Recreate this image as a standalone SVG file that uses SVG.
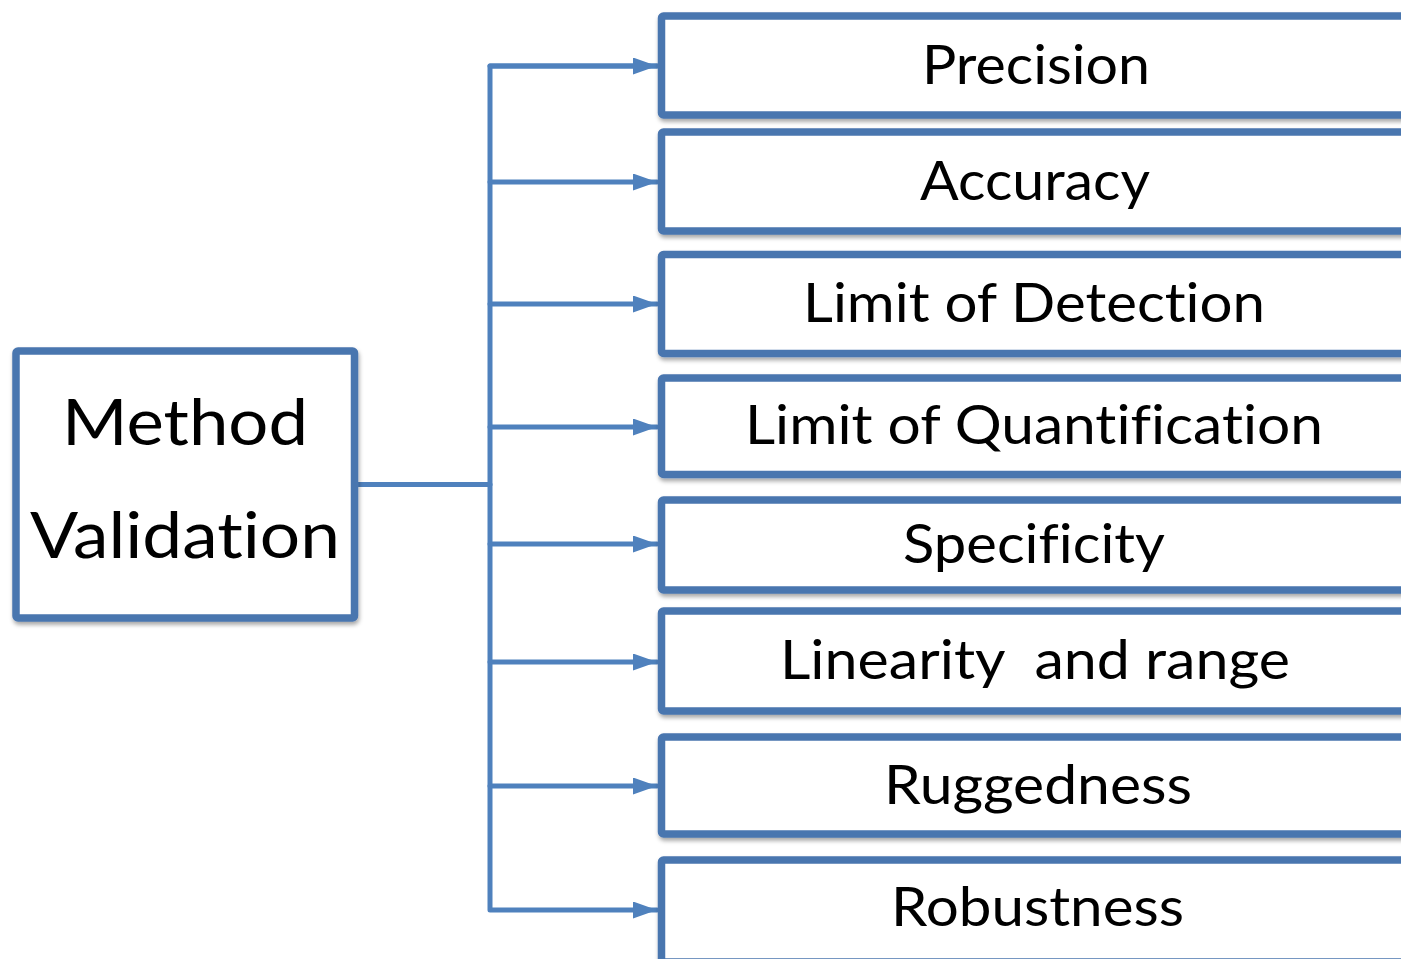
<svg xmlns="http://www.w3.org/2000/svg" width="1401" height="959" viewBox="0 0 1401 959">
<style>
.box{fill:#fff;stroke:#4A76AF;stroke-width:7.5;filter:url(#sh)}
.lbl{font-family:Lato,"Liberation Sans",sans-serif;font-size:55px;fill:#000;text-anchor:middle;font-variant-ligatures:none;font-feature-settings:"liga" 0,"clig" 0}
.big{font-size:64px}
.con{fill:none;stroke:#4F81BD;stroke-width:5;stroke-linejoin:round;stroke-linecap:round}
</style>
<defs>
<filter id="sh" x="-5%" y="-10%" width="110%" height="130%">
<feDropShadow dx="1" dy="3" stdDeviation="2" flood-color="#000" flood-opacity="0.35"/>
</filter>
<marker id="ah" markerUnits="userSpaceOnUse" markerWidth="26" markerHeight="18" refX="24" refY="8.5" orient="auto">
<path d="M0,0 L24,8.5 L0,17 Z" fill="#4F81BD"/>
</marker>
</defs>
<g id="connectors">
<path class="con" d="M358,484.5 H490"/>
<path class="con" d="M657,66 H490 V910 H657" marker-end="url(#ah)"/>
<path class="con" d="M490,66 H657" marker-end="url(#ah)"/>
<path class="con" d="M490,182 H657" marker-end="url(#ah)"/>
<path class="con" d="M490,304 H657" marker-end="url(#ah)"/>
<path class="con" d="M490,427 H657" marker-end="url(#ah)"/>
<path class="con" d="M490,544 H657" marker-end="url(#ah)"/>
<path class="con" d="M490,662 H657" marker-end="url(#ah)"/>
<path class="con" d="M490,786 H657" marker-end="url(#ah)"/>
</g>
<g id="method">
<rect class="box" x="16" y="351" width="338.5" height="267" rx="2"/>
<text class="lbl big" x="185" y="445" textLength="246" lengthAdjust="spacingAndGlyphs">Method</text>
<text class="lbl big" x="185" y="558" textLength="310" lengthAdjust="spacingAndGlyphs">Validation</text>
</g>
<g id="precision">
<rect class="box" x="661.5" y="16" width="747" height="99" rx="2"/>
<text class="lbl" x="1036" y="84" textLength="228" lengthAdjust="spacingAndGlyphs">Precision</text>
</g>
<g id="accuracy">
<rect class="box" x="661.5" y="132" width="747" height="99" rx="2"/>
<text class="lbl" x="1035" y="200" textLength="230" lengthAdjust="spacingAndGlyphs">Accuracy</text>
</g>
<g id="lod">
<rect class="box" x="661.5" y="254.5" width="747" height="99" rx="2"/>
<text class="lbl" x="1034" y="322" textLength="462" lengthAdjust="spacingAndGlyphs">Limit of Detection</text>
</g>
<g id="loq">
<rect class="box" x="661.5" y="378" width="747" height="96.5" rx="2"/>
<text class="lbl" x="1034" y="444" textLength="578" lengthAdjust="spacingAndGlyphs">Limit of Quantification</text>
</g>
<g id="specificity">
<rect class="box" x="661.5" y="500" width="747" height="90" rx="2"/>
<text class="lbl" x="1034" y="563" textLength="262" lengthAdjust="spacingAndGlyphs">Specificity</text>
</g>
<g id="linearity">
<rect class="box" x="661.5" y="611" width="747" height="100" rx="2"/>
<text class="lbl" x="1035" y="679" textLength="510" lengthAdjust="spacingAndGlyphs" xml:space="preserve">Linearity  and range</text>
</g>
<g id="ruggedness">
<rect class="box" x="661.5" y="737" width="747" height="97" rx="2"/>
<text class="lbl" x="1038" y="804" textLength="308" lengthAdjust="spacingAndGlyphs">Ruggedness</text>
</g>
<g id="robustness">
<rect class="box" x="661.5" y="860" width="747" height="102" rx="2"/>
<text class="lbl" x="1037.5" y="926" textLength="293" lengthAdjust="spacingAndGlyphs">Robustness</text>
</g>
</svg>
